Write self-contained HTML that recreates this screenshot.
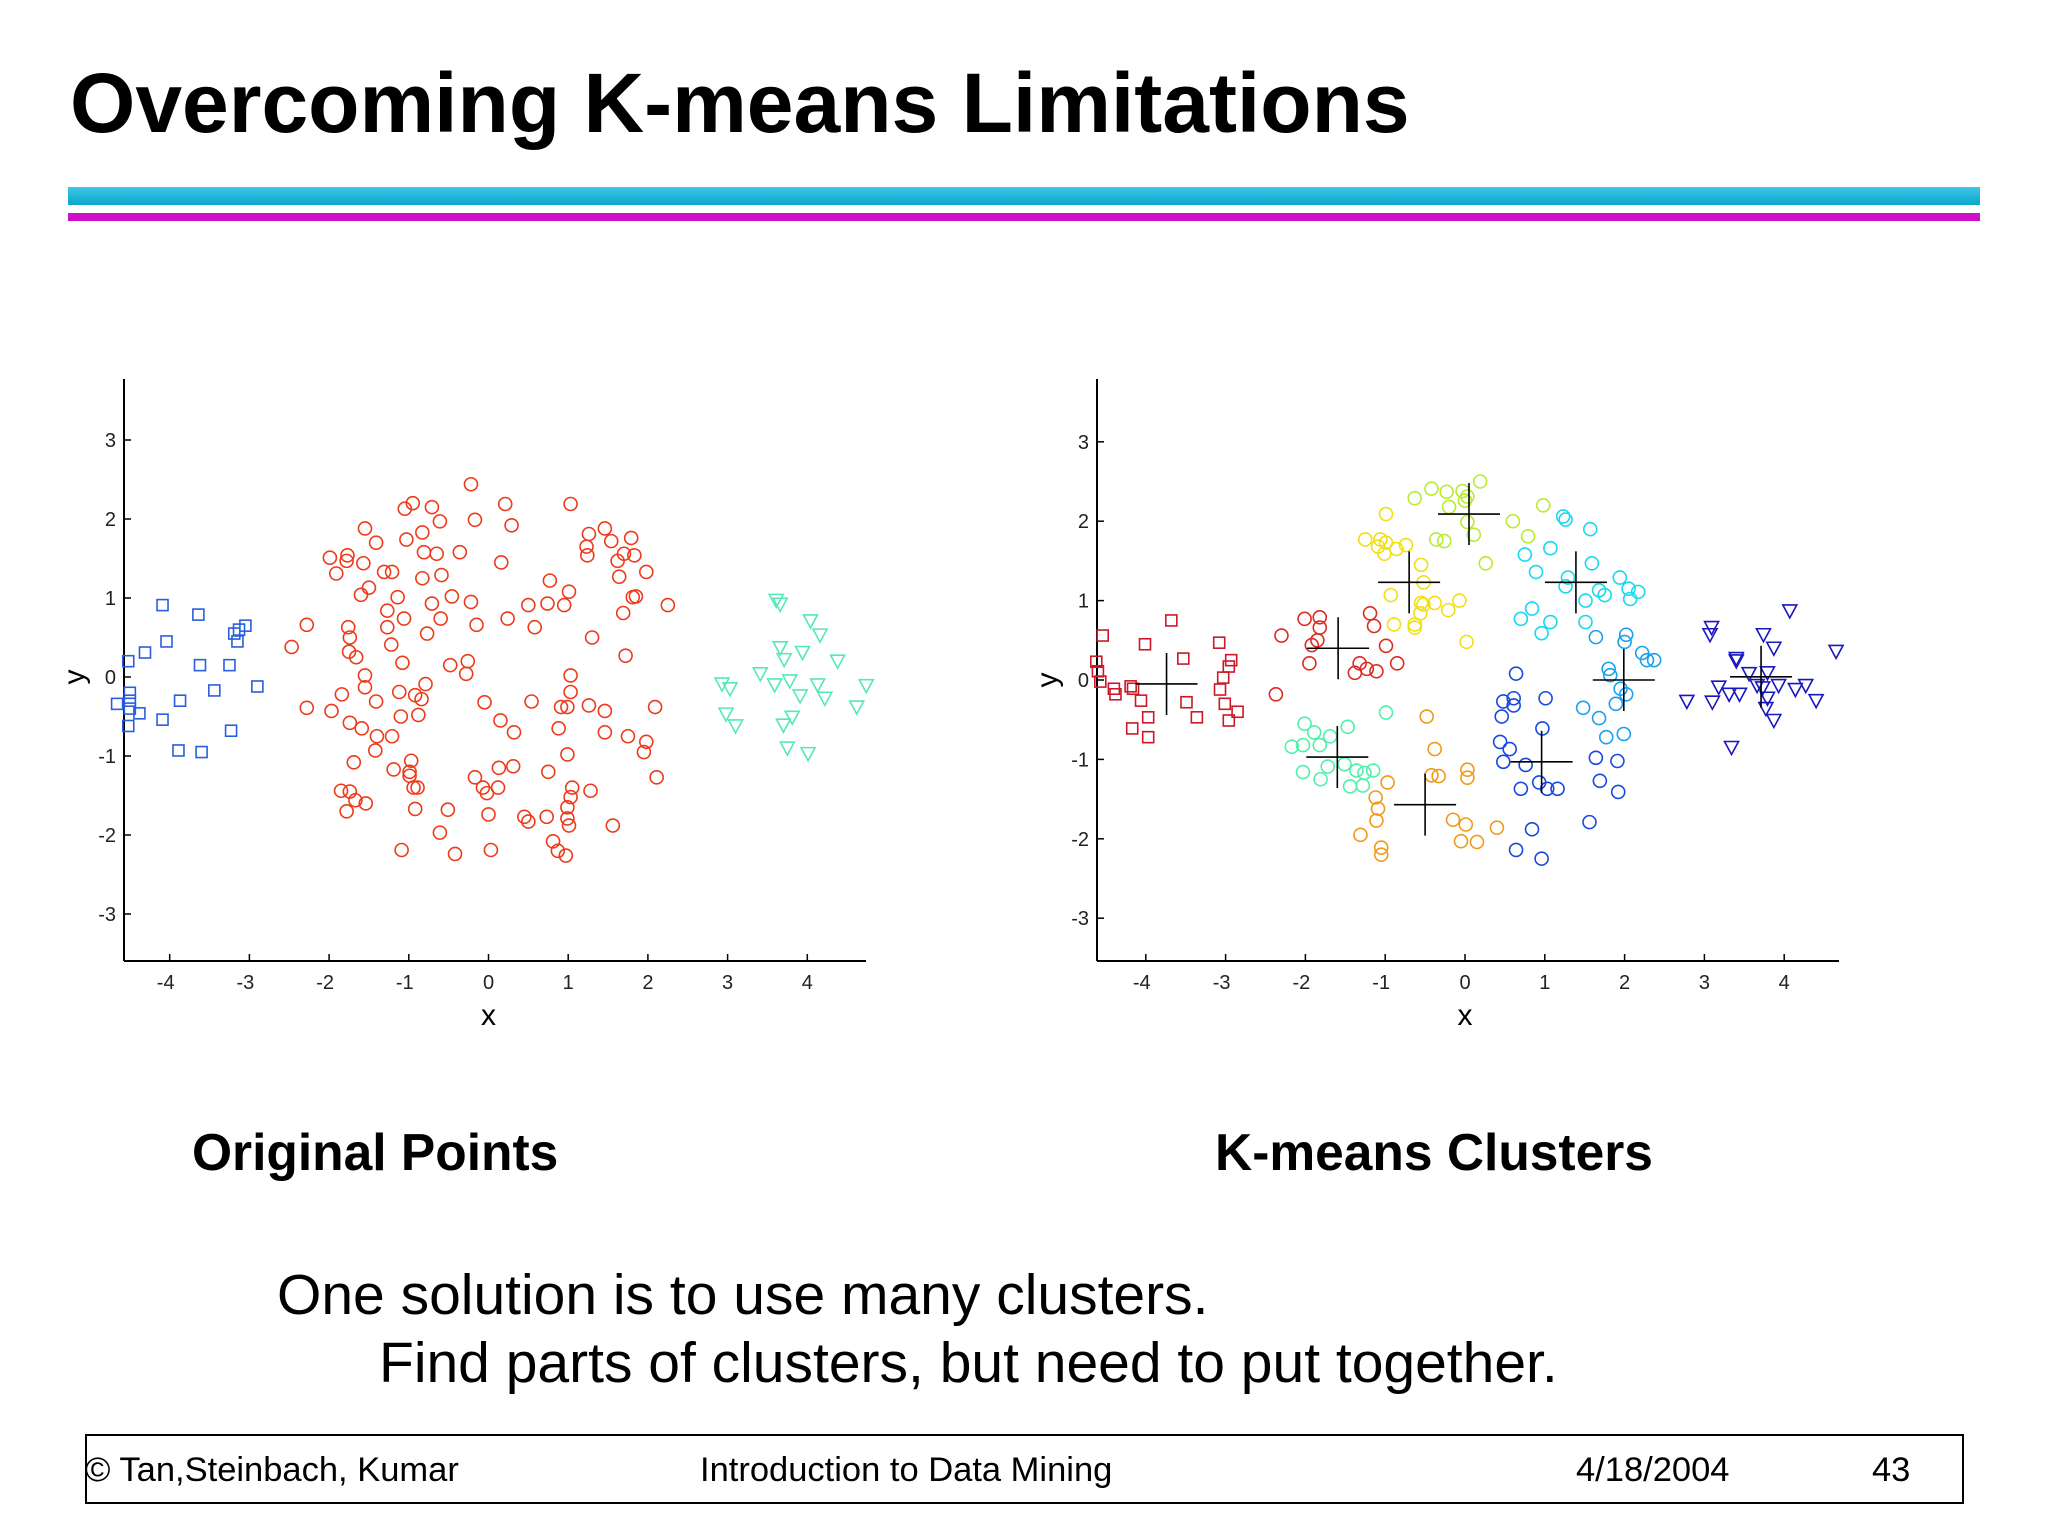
<!DOCTYPE html>
<html><head><meta charset="utf-8">
<style>
html,body{margin:0;padding:0;background:#fff;}
body{width:2048px;height:1536px;position:relative;overflow:hidden;font-family:"Liberation Sans",sans-serif;}
.t{position:absolute;white-space:nowrap;color:#000;}
</style></head><body>
<div class="t" style="left:70px;top:55px;font-size:84px;font-weight:bold;">Overcoming K-means Limitations</div>
<div style="position:absolute;left:68px;top:187px;width:1912px;height:18px;background:linear-gradient(#3fc6e6,#0aa6cc);"></div>
<div style="position:absolute;left:68px;top:213px;width:1912px;height:8px;background:#d010c8;"></div>
<svg id="chart" width="2048" height="1536" style="position:absolute;left:0;top:0;"></svg>
<div class="t" style="left:192px;top:1122px;font-size:51.5px;font-weight:bold;">Original Points</div>
<div class="t" style="left:1215px;top:1122px;font-size:51.5px;font-weight:bold;">K-means Clusters</div>
<div class="t" style="left:277px;top:1262px;font-size:57px;">One solution is to use many clusters.</div>
<div class="t" style="left:379px;top:1330px;font-size:57px;">Find parts of clusters, but need to put together.</div>
<div style="position:absolute;left:85px;top:1434px;width:1875px;height:66px;border:2px solid #000;"></div>
<div class="t" style="left:85px;top:1451px;font-size:34.5px;">© Tan,Steinbach, Kumar</div>
<div class="t" style="left:700px;top:1451px;font-size:34.5px;">Introduction to Data Mining</div>
<div class="t" style="left:1576px;top:1451px;font-size:34.5px;">4/18/2004</div>
<div class="t" style="left:1872px;top:1451px;font-size:34.5px;">43</div>
<script>
const xTicks=[-4,-3,-2,-1,0,1,2,3,4];
const yTicks=[-3,-2,-1,0,1,2,3];
const origSquares=[[-4.09,0.91],[-3.64,0.79],[-3.05,0.65],[-3.13,0.6],[-3.19,0.55],[-3.15,0.45],[-4.04,0.45],[-4.31,0.31],[-4.52,0.2],[-3.62,0.15],[-3.25,0.15],[-2.9,-0.12],[-3.44,-0.17],[-4.5,-0.2],[-4.5,-0.3],[-4.66,-0.34],[-4.5,-0.4],[-4.38,-0.46],[-3.87,-0.3],[-4.09,-0.54],[-4.52,-0.62],[-3.23,-0.68],[-3.89,-0.93],[-3.6,-0.95]];
const origTriangles=[[3.61,0.97],[3.66,0.92],[4.04,0.71],[4.16,0.53],[3.66,0.37],[3.94,0.31],[3.71,0.22],[4.38,0.2],[3.41,0.04],[2.93,-0.09],[3.03,-0.15],[3.59,-0.1],[3.78,-0.05],[4.13,-0.1],[4.74,-0.11],[3.91,-0.24],[4.22,-0.27],[4.62,-0.38],[2.98,-0.47],[3.1,-0.62],[3.81,-0.51],[3.7,-0.61],[3.75,-0.9],[4.01,-0.97]];
const origCircles=[[-0.22,2.44],[-1.05,2.13],[-0.95,2.2],[-0.71,2.15],[-0.61,1.97],[-0.17,1.99],[0.21,2.19],[0.29,1.92],[1.03,2.19],[-1.55,1.88],[-1.41,1.7],[-1.03,1.74],[-0.83,1.83],[-0.81,1.58],[-0.65,1.56],[-0.36,1.58],[0.16,1.45],[1.26,1.81],[1.46,1.88],[1.23,1.65],[1.24,1.54],[1.54,1.72],[1.79,1.76],[1.7,1.56],[1.62,1.47],[1.83,1.54],[1.98,1.33],[-1.99,1.51],[-1.77,1.54],[-1.78,1.47],[-1.91,1.31],[-1.57,1.44],[-1.31,1.33],[-1.21,1.33],[-0.83,1.25],[-0.59,1.29],[0.77,1.22],[1.01,1.08],[1.64,1.27],[-1.5,1.13],[-1.6,1.04],[-1.14,1.01],[-1.27,0.84],[-0.71,0.93],[-0.46,1.02],[-0.22,0.95],[0.5,0.91],[0.74,0.93],[0.95,0.91],[1.81,1.01],[1.85,1.02],[2.25,0.91],[1.69,0.81],[-2.28,0.66],[-2.47,0.38],[-1.76,0.63],[-1.74,0.5],[-1.75,0.32],[-1.66,0.25],[-1.27,0.63],[-1.22,0.41],[-1.06,0.74],[-0.6,0.74],[-0.77,0.55],[-0.15,0.66],[0.24,0.74],[0.58,0.63],[1.3,0.5],[1.72,0.27],[-1.08,0.18],[-0.48,0.15],[-0.26,0.2],[-0.28,0.04],[1.03,0.02],[-1.55,0.02],[-1.55,-0.13],[-1.84,-0.22],[-1.41,-0.31],[-1.12,-0.19],[-0.92,-0.23],[-0.84,-0.28],[-0.79,-0.09],[-0.05,-0.32],[0.54,-0.31],[1.03,-0.19],[0.91,-0.38],[0.99,-0.38],[1.26,-0.36],[1.46,-0.43],[2.09,-0.38],[-2.28,-0.39],[-1.97,-0.43],[-1.74,-0.58],[-1.59,-0.65],[-1.1,-0.5],[-0.88,-0.48],[-1.4,-0.75],[-1.21,-0.75],[0.15,-0.55],[0.32,-0.7],[0.88,-0.65],[1.46,-0.7],[1.75,-0.75],[1.98,-0.82],[1.95,-0.95],[0.99,-0.98],[-1.42,-0.93],[-1.69,-1.08],[-0.97,-1.06],[-1.19,-1.17],[-0.99,-1.2],[-0.99,-1.25],[0.13,-1.15],[0.31,-1.13],[0.75,-1.2],[1.05,-1.4],[1.28,-1.44],[2.11,-1.27],[-1.85,-1.44],[-1.74,-1.45],[-1.67,-1.56],[-1.54,-1.6],[-1.78,-1.7],[-0.94,-1.4],[-0.89,-1.4],[-0.17,-1.27],[-0.07,-1.4],[-0.02,-1.47],[0.12,-1.4],[-0.92,-1.67],[-0.51,-1.68],[0,-1.74],[0.45,-1.77],[0.5,-1.83],[0.73,-1.77],[1.03,-1.52],[0.99,-1.65],[0.99,-1.79],[1.01,-1.88],[1.56,-1.88],[-0.61,-1.97],[-1.09,-2.19],[-0.42,-2.24],[0.03,-2.19],[0.81,-2.08],[0.87,-2.2],[0.97,-2.26]];
const kmSquares=[[-4.54,0.56],[-4.62,0.23],[-4.6,0.11],[-4.57,-0.02],[-4.4,-0.11],[-4.38,-0.18],[-4.19,-0.08],[-4.16,-0.11],[-4.06,-0.26],[-4.17,-0.61],[-3.97,-0.72],[-3.97,-0.47],[-4.01,0.45],[-3.68,0.75],[-3.53,0.27],[-3.49,-0.28],[-3.36,-0.47],[-3.08,0.47],[-2.93,0.25],[-2.96,0.17],[-3.03,0.03],[-3.07,-0.12],[-3.01,-0.3],[-2.96,-0.51],[-2.85,-0.4]];
const kmRed=[[-2.3,0.56],[-2.37,-0.18],[-2.01,0.77],[-1.82,0.79],[-1.82,0.66],[-1.85,0.5],[-1.92,0.44],[-1.95,0.21],[-1.19,0.84],[-1.14,0.68],[-0.99,0.43],[-0.85,0.21],[-1.32,0.21],[-1.23,0.14],[-1.11,0.11],[-1.38,0.09]];
const kmYellow=[[-0.99,2.09],[-1.25,1.77],[-1.06,1.77],[-1.09,1.68],[-0.99,1.73],[-0.86,1.65],[-0.74,1.7],[-1.01,1.59],[-0.55,1.45],[-0.52,1.23],[-0.93,1.07],[-0.55,0.97],[-0.52,0.95],[-0.38,0.97],[-0.56,0.84],[-0.21,0.88],[-0.07,1.0],[-0.89,0.7],[-0.63,0.7],[-0.63,0.66],[0.02,0.48]];
const kmLime=[[-0.63,2.29],[-0.42,2.41],[-0.23,2.37],[-0.03,2.38],[0.19,2.5],[-0.2,2.18],[0,2.26],[0.03,2.31],[0.03,1.99],[0.11,1.83],[-0.36,1.77],[-0.26,1.75],[0.26,1.47],[0.6,2.0],[0.98,2.2],[0.79,1.81]];
const kmCyan=[[1.23,2.06],[1.26,2.02],[1.57,1.9],[0.75,1.58],[1.07,1.66],[0.89,1.36],[1.59,1.47],[1.29,1.29],[1.26,1.18],[1.68,1.13],[1.75,1.07],[1.51,1.0],[1.94,1.29],[2.05,1.15],[2.17,1.11],[2.07,1.02],[0.84,0.9],[0.7,0.77],[1.07,0.73],[0.96,0.59],[1.51,0.73]];
const kmSky=[[1.64,0.54],[2.02,0.57],[2.0,0.48],[2.22,0.34],[2.28,0.25],[2.37,0.25],[1.8,0.14],[1.82,0.06],[1.95,-0.11],[2.02,-0.18],[1.48,-0.35],[1.68,-0.48],[1.89,-0.3],[1.77,-0.72],[1.99,-0.68]];
const kmBlue=[[0.64,0.08],[0.48,-0.27],[0.61,-0.23],[0.61,-0.32],[0.46,-0.46],[1.01,-0.23],[0.97,-0.61],[0.44,-0.78],[0.56,-0.87],[0.48,-1.03],[0.76,-1.07],[0.93,-1.29],[0.7,-1.37],[1.03,-1.37],[1.16,-1.37],[1.64,-0.98],[1.91,-1.02],[1.69,-1.27],[1.92,-1.41],[1.56,-1.79],[0.84,-1.88],[0.64,-2.14],[0.96,-2.25]];
const kmAqua=[[-0.99,-0.41],[-2.01,-0.55],[-1.89,-0.66],[-1.69,-0.71],[-1.47,-0.59],[-2.17,-0.84],[-2.03,-0.82],[-1.82,-0.82],[-2.03,-1.16],[-1.81,-1.25],[-1.72,-1.09],[-1.51,-1.06],[-1.36,-1.14],[-1.26,-1.17],[-1.15,-1.14],[-1.44,-1.34],[-1.28,-1.33]];
const kmOrange=[[-0.48,-0.46],[-0.38,-0.87],[-0.42,-1.2],[-0.33,-1.21],[0.03,-1.13],[0.03,-1.23],[-0.97,-1.29],[-1.12,-1.48],[-1.09,-1.62],[-1.11,-1.77],[-1.31,-1.95],[-1.05,-2.11],[-1.05,-2.2],[-0.15,-1.76],[0.01,-1.82],[-0.05,-2.03],[0.15,-2.04],[0.4,-1.86]];
const kmTriangles=[[3.09,0.66],[3.07,0.57],[3.4,0.27],[3.4,0.24],[3.74,0.57],[3.87,0.4],[4.07,0.87],[4.65,0.36],[2.78,-0.27],[3.1,-0.28],[3.18,-0.09],[3.31,-0.18],[3.44,-0.18],[3.56,0.08],[3.66,-0.07],[3.73,-0.1],[3.79,-0.23],[3.77,-0.36],[3.87,-0.51],[3.93,-0.07],[4.14,-0.12],[4.27,-0.07],[4.4,-0.26],[3.34,-0.85],[3.79,0.09]];
const centroids=[[-3.74,-0.05],[-1.59,0.4],[-0.7,1.23],[0.05,2.09],[1.39,1.23],[1.99,0],[0.96,-1.03],[-1.6,-0.97],[-0.5,-1.57],[3.71,0.04]];

const NS='http://www.w3.org/2000/svg';
const svg=document.getElementById('chart');
function mk(tag,attrs,parent){const e=document.createElementNS(NS,tag);for(const k in attrs)e.setAttribute(k,attrs[k]);(parent||svg).appendChild(e);return e;}
function makeAxes(ox,oy,ux,uy,left,right,top,bottom,name){
  const g=mk('g',{});
  
  
  const sx=v=>ox+v*ux, sy=v=>oy-v*uy;
  mk('line',{x1:left,y1:bottom,x2:right,y2:bottom,stroke:'#000','stroke-width':2},g);
  mk('line',{x1:left,y1:top,x2:left,y2:bottom,stroke:'#000','stroke-width':2},g);
  xTicks.forEach(t=>{
    mk('line',{x1:sx(t),y1:bottom,x2:sx(t),y2:bottom-7,stroke:'#000','stroke-width':1.5},g);
    const tx=mk('text',{x:sx(t)-(t<0?4:0),y:bottom+28,'font-size':20,'text-anchor':'middle','font-family':'Liberation Sans, sans-serif',fill:'#222'},g);
    tx.textContent=t;
    
    
  });
  yTicks.forEach(t=>{
    mk('line',{x1:left,y1:sy(t),x2:left+7,y2:sy(t),stroke:'#000','stroke-width':1.5},g);
    const tx=mk('text',{x:left-8,y:sy(t)+7,'font-size':20,'text-anchor':'end','font-family':'Liberation Sans, sans-serif',fill:'#222'},g);
    tx.textContent=t;
    
    
  });
  const xl=mk('text',{x:ox,y:bottom+64,'font-size':30,'text-anchor':'middle','font-family':'Liberation Sans, sans-serif'},g);
  xl.textContent='x';
  
  
  const yl=mk('text',{x:left-40,y:oy,'font-size':30,'text-anchor':'middle','font-family':'Liberation Sans, sans-serif',transform:'rotate(-90 '+(left-40)+' '+oy+')'},g);
  yl.textContent='y';
  
  
  return {sx,sy};
}
function plot(ax,pts,shape,color,name){
  const g=mk('g',{fill:'none',stroke:color,'stroke-width':1.6});
  
  
  pts.forEach(p=>{
    const x=ax.sx(p[0]),y=ax.sy(p[1]);
    let e;
    if(shape==='o') e=mk('circle',{cx:x,cy:y,r:6.5},g);
    else if(shape==='s') e=mk('rect',{x:x-5.5,y:y-5.5,width:11,height:11},g);
    else e=mk('polygon',{points:(x-7)+','+(y-6)+' '+(x+7)+','+(y-6)+' '+x+','+(y+7)},g);
    
    
  });
}
const A=makeAxes(488.5,677,79.7,79,124,866,379,961,'left-chart');
plot(A,origCircles,'o','#ee3a1a','original-circles');
plot(A,origSquares,'s','#2a5ee0','original-squares');
plot(A,origTriangles,'v','#55e8b8','original-triangles');

const B=makeAxes(1465,680,79.8,79.4,1097,1839,379,961,'right-chart');
plot(B,kmSquares,'s','#cc1828','cluster-red-squares');
plot(B,kmRed,'o','#dd2a22','cluster-red');
plot(B,kmYellow,'o','#f0e010','cluster-yellow');
plot(B,kmLime,'o','#b8ec30','cluster-lime');
plot(B,kmCyan,'o','#18d8f0','cluster-cyan');
plot(B,kmSky,'o','#1aa0ec','cluster-sky');
plot(B,kmBlue,'o','#1848e0','cluster-blue');
plot(B,kmAqua,'o','#50f0a8','cluster-aqua');
plot(B,kmOrange,'o','#f09a18','cluster-orange');
plot(B,kmTriangles,'v','#1818c0','cluster-triangles');
centroids.forEach(c=>{
  const x=B.sx(c[0]),y=B.sy(c[1]);
  const g=mk('g',{stroke:'#000','stroke-width':1.6});
  
  
  mk('line',{x1:x-31,y1:y,x2:x+31,y2:y},g);
  mk('line',{x1:x,y1:y-31,x2:x,y2:y+31},g);
});
</script>
</body></html>
